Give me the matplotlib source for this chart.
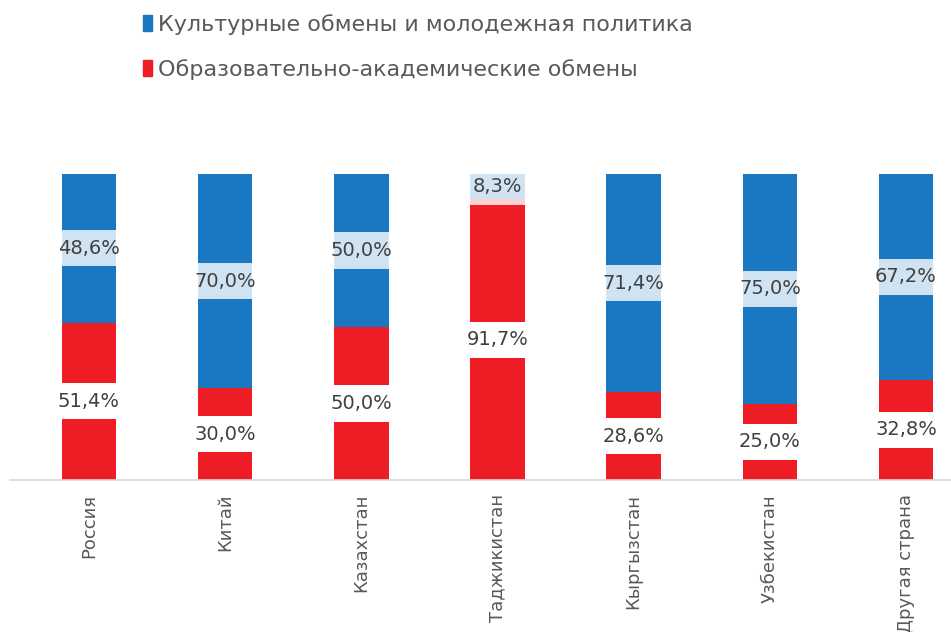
import matplotlib
matplotlib.use('Agg')
from matplotlib import pyplot as plt
from matplotlib.patches import Patch

# данные
countries = ['Россия', 'Китай', 'Казахстан', 'Таджикистан', 'Кыргызстан', 'Узбекистан', 'Другая страна']
edu = [51.4, 30.0, 50.0, 91.7, 28.6, 25.0, 32.8]      # образовательно-академические обмены
cult = [48.6, 70.0, 50.0, 8.3, 71.4, 75.0, 67.2]      # культурные обмены и молодежная политика

blue = '#1a78c2'
red = '#ee1c25'
text_col = '#404040'

fig = plt.figure(figsize=(9.51, 6.32), dpi=100)
ax = fig.add_axes([0.0105, 0.2405, 0.9895, 0.4842])

x = list(range(len(countries)))
e = [v / 100 for v in edu]
c = [v / 100 for v in cult]
w = 0.4

ax.bar(x, e, w, color=red)
ax.bar(x, c, w, bottom=e, color=blue)

# подписи с подложкой
box_h = 0.118
for i in x:
    yc = e[i] / 2
    ax.bar(i, box_h, w, bottom=yc - box_h / 2, color='white', zorder=3)
    ax.text(i, yc, f'{edu[i]:.1f}%'.replace('.', ','), ha='center', va='center',
            fontsize=14, color=text_col, zorder=4)
    yc = e[i] + c[i] / 2
    ax.bar(i, box_h, w, bottom=yc - box_h / 2, color='white', alpha=0.8, zorder=3)
    ax.text(i, yc, f'{cult[i]:.1f}%'.replace('.', ','), ha='center', va='center',
            fontsize=14, color=text_col, zorder=4)

ax.set_xlim(-0.58, 6.33)
ax.set_ylim(0, 1)
ax.set_xticks(x)
ax.set_xticklabels(countries, rotation=90, fontsize=13, color='#595959')
ax.tick_params(axis='x', length=0, pad=10)
ax.set_yticks([])
for s in ['top', 'left', 'right']:
    ax.spines[s].set_visible(False)
ax.spines['bottom'].set_color('#d9d9d9')
ax.spines['bottom'].set_linewidth(1.2)

handles = [Patch(color=blue), Patch(color=red)]
labels = ['Культурные обмены и молодежная политика', 'Образовательно-академические обмены']
fig.legend(handles, labels, loc='upper left', bbox_to_anchor=(0.150, 0.978), frameon=False,
           fontsize=16, labelcolor='#595959', handlelength=0.4, handleheight=0.7,
           handletextpad=0.3, labelspacing=1.1, borderpad=0, borderaxespad=0)

plt.savefig('out.png')
